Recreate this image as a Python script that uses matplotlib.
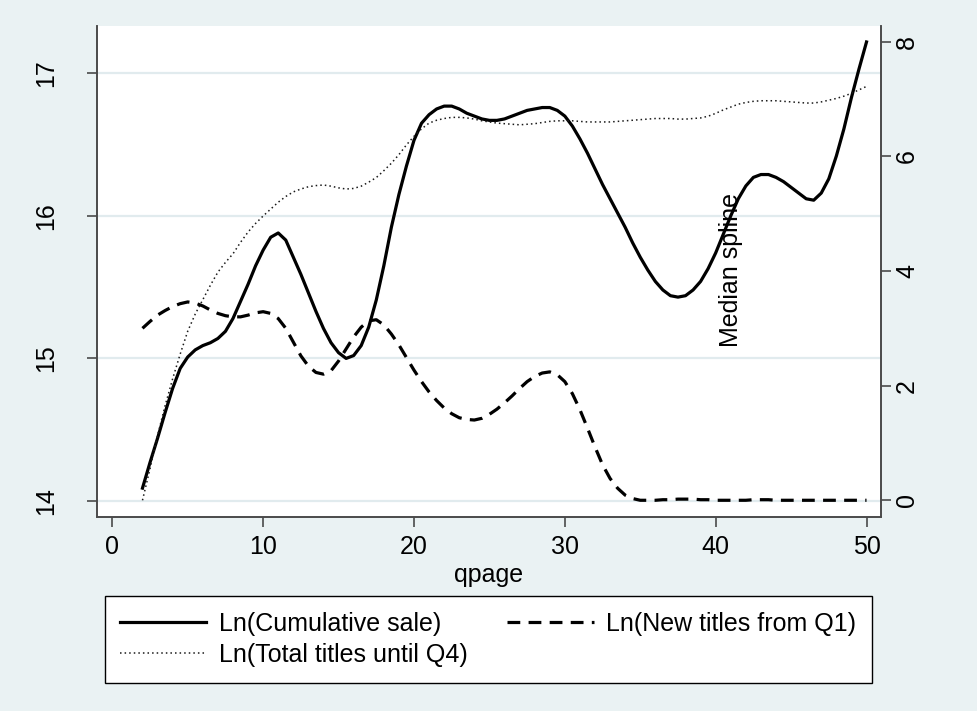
import matplotlib
matplotlib.use("Agg")
import matplotlib.pyplot as plt

plt.rcParams["font.family"] = ["Liberation Sans", "DejaVu Sans"]
plt.rcParams["font.size"] = 18

# qpage grid the spline values were read at (2 to 50, half steps)
qpage = [i / 2 for i in range(4, 101)]

# Ln(Cumulative sale) - left axis
cum_sale = [14.09, 14.27, 14.44, 14.62, 14.79, 14.93, 15.01, 15.06, 15.09, 15.11,
            15.14, 15.19, 15.28, 15.40, 15.52, 15.65, 15.76, 15.85, 15.88, 15.83,
            15.71, 15.59, 15.46, 15.33, 15.21, 15.11, 15.04, 15.00, 15.02, 15.09,
            15.22, 15.41, 15.65, 15.92, 16.15, 16.35, 16.53, 16.65, 16.71, 16.75,
            16.77, 16.77, 16.75, 16.72, 16.70, 16.68, 16.67, 16.67, 16.68, 16.70,
            16.72, 16.74, 16.75, 16.76, 16.76, 16.74, 16.70, 16.63, 16.54, 16.44,
            16.33, 16.22, 16.12, 16.02, 15.92, 15.81, 15.71, 15.62, 15.54, 15.48,
            15.44, 15.43, 15.44, 15.48, 15.54, 15.63, 15.74, 15.87, 16.00, 16.12,
            16.21, 16.27, 16.29, 16.29, 16.27, 16.24, 16.20, 16.16, 16.12, 16.11,
            16.16, 16.26, 16.42, 16.61, 16.83, 17.03, 17.22]

# Ln(New titles from Q1) - right axis
new_titles = [3.00, 3.12, 3.23, 3.31, 3.38, 3.43, 3.46, 3.44, 3.39, 3.32,
              3.26, 3.22, 3.20, 3.20, 3.23, 3.27, 3.29, 3.26, 3.17, 3.00,
              2.76, 2.52, 2.34, 2.23, 2.20, 2.26, 2.43, 2.64, 2.85, 3.02,
              3.13, 3.15, 3.06, 2.90, 2.71, 2.49, 2.27, 2.07, 1.89, 1.74,
              1.61, 1.51, 1.44, 1.41, 1.40, 1.43, 1.50, 1.59, 1.70, 1.82,
              1.95, 2.07, 2.16, 2.22, 2.24, 2.19, 2.07, 1.86, 1.58, 1.26,
              0.93, 0.62, 0.38, 0.21, 0.09, 0.03, 0.00, 0.00, 0.00, 0.01,
              0.01, 0.02, 0.02, 0.02, 0.01, 0.01, 0.00, 0.00, 0.00, 0.00,
              0.00, 0.01, 0.01, 0.01, 0.00, 0.00, 0.00, 0.00, 0.00, 0.00,
              0.00, 0.00, 0.00, 0.00, 0.00, 0.00, 0.00]

# Ln(Total titles until Q4) - right axis
total_titles = [0.00, 0.55, 1.13, 1.65, 2.12, 2.55, 2.95, 3.25, 3.50, 3.75,
                3.98, 4.15, 4.30, 4.50, 4.68, 4.83, 4.96, 5.08, 5.20, 5.30,
                5.38, 5.43, 5.47, 5.49, 5.50, 5.48, 5.45, 5.43, 5.44, 5.48,
                5.55, 5.63, 5.75, 5.88, 6.03, 6.20, 6.35, 6.48, 6.58, 6.63,
                6.66, 6.68, 6.68, 6.67, 6.65, 6.62, 6.60, 6.58, 6.57, 6.56,
                6.55, 6.56, 6.57, 6.59, 6.61, 6.62, 6.62, 6.62, 6.61, 6.60,
                6.60, 6.60, 6.60, 6.61, 6.62, 6.63, 6.64, 6.65, 6.66, 6.66,
                6.66, 6.65, 6.65, 6.66, 6.67, 6.70, 6.75, 6.81, 6.86, 6.91,
                6.94, 6.96, 6.97, 6.97, 6.97, 6.96, 6.95, 6.94, 6.93, 6.93,
                6.95, 6.98, 7.01, 7.05, 7.10, 7.16, 7.22]

x_ticks = [0, 10, 20, 30, 40, 50]
left_ticks = [14, 15, 16, 17]
right_ticks = [0, 2, 4, 6, 8]

bg = "#EAF2F3"
grid_col = "#E1EBEE"
axis_col = "#4a4a4a"

fig = plt.figure(figsize=(9.77, 7.11), dpi=100, facecolor=bg)
ax = fig.add_axes([96.7 / 977, 1 - 516.5 / 711, (881.3 - 96.7) / 977, (516.5 - 26) / 711])
ax.set_facecolor("white")
ax2 = ax.twinx()

ax.set_xlim(-1.035, 50.98)
ax.set_ylim(13.891, 17.332)
ax2.set_ylim(-0.283, 8.274)

for a in (ax, ax2):
    a.spines["top"].set_visible(False)
    for s in ("left", "right", "bottom"):
        a.spines[s].set_color(axis_col)
        a.spines[s].set_linewidth(1.2)

ax.set_yticks(left_ticks)
ax.set_xticks(x_ticks)
ax2.set_yticks(right_ticks)
ax.grid(axis="y", color=grid_col, linewidth=1.6)
ax.set_axisbelow(True)

ax.tick_params(axis="both", direction="out", length=7, width=1.2, color=axis_col)
ax.tick_params(axis="x", pad=6)
ax.tick_params(axis="y", pad=21)
ax2.tick_params(axis="y", direction="out", length=7, width=1.2, color=axis_col, pad=3)
plt.setp(ax.get_yticklabels(), rotation=90, va="center")
plt.setp(ax2.get_yticklabels(), rotation=90, va="center")

h_sale, = ax.plot(qpage, cum_sale, color="black", lw=2.3, solid_joinstyle="round",
                  label="Ln(Cumulative sale)")
h_new, = ax2.plot(qpage, new_titles, color="black", lw=2.3, linestyle=(0, (4, 2.6)),
                  label="Ln(New titles from Q1)")
h_tot, = ax2.plot(qpage, total_titles, color="#1a1a1a", lw=1.1, linestyle=(0, (1, 2)),
                  label="Ln(Total titles until Q4)")

ax.text(41, 15.08, "Median spline", rotation=90, ha="center", va="bottom", fontsize=18)
ax.set_xlabel("qpage", labelpad=3)

leg = fig.legend([h_sale, h_tot, h_new],
                 ["Ln(Cumulative sale)", "Ln(Total titles until Q4)", "Ln(New titles from Q1)"],
                 ncol=2, mode="expand", loc="upper left",
                 bbox_to_anchor=(0.1072, 0.0, 0.785, 1 - 596 / 711),
                 frameon=True, fancybox=False, edgecolor="black", facecolor="white",
                 framealpha=1, borderpad=0.62, handlelength=3.45, handletextpad=0.5,
                 labelspacing=0.3, borderaxespad=0, fontsize=18)
leg.get_frame().set_linewidth(1.0)

fig.savefig("out.png", dpi=100, facecolor=bg)
